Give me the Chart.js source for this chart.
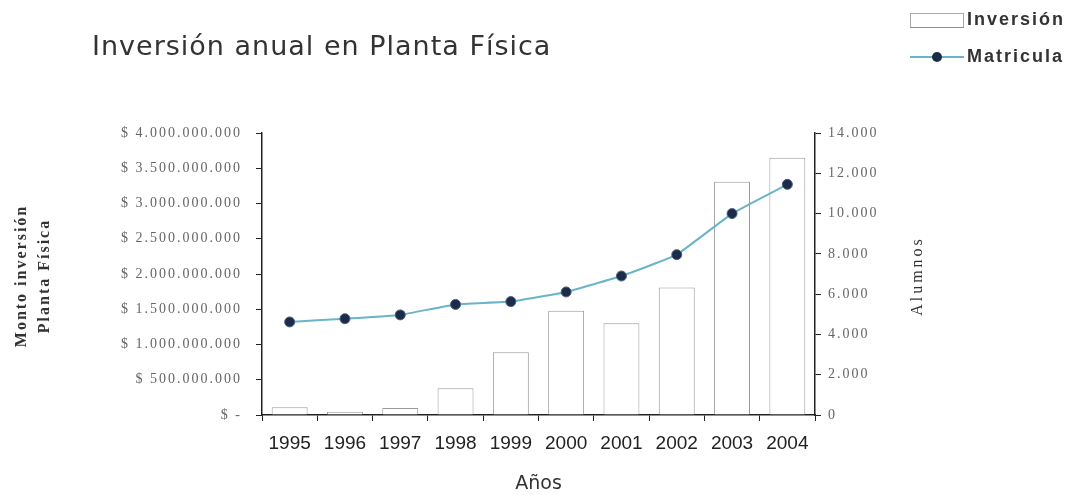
<!DOCTYPE html>
<html><head><meta charset="utf-8">
<script src="https://cdn.jsdelivr.net/npm/chart.js@4"></script>
<style>html,body{margin:0;padding:0;background:#fff}#wrap{width:1082px;height:495px;position:relative}</style>
</head><body><div id="wrap"><canvas id="c" width="1082" height="495"></canvas></div>
<script>
const years = ['1995','1996','1997','1998','1999','2000','2001','2002','2003','2004'];
const inversion = [110e6, 45e6, 100e6, 380e6, 890e6, 1480e6, 1300e6, 1810e6, 3310e6, 3650e6];
const matricula = [4620, 4780, 4970, 5490, 5630, 6110, 6900, 7960, 10000, 11450];
const titleText = 'Inversión anual en Planta Física';
const legendLabels = ['Inversión', 'Matricula'];
const leftAxisTitle = ['Monto inversión', 'Planta Física'];
const rightAxisTitle = 'Alumnos';
const xAxisTitle = 'Años';

const fmtDots = n => Math.round(n).toString().replace(/\B(?=(\d{3})+(?!\d))/g, '.');
const fmtLeft = v => v === 0 ? '$ -' : '$ ' + fmtDots(v);

const overlay = {
  id: 'overlay',
  afterDraw(chart) {
    const ctx = chart.ctx;
    ctx.save();
    ctx.textBaseline = 'middle';
    // title
    ctx.fillStyle = '#333';
    ctx.font = '27px "DejaVu Sans"';
    ctx.letterSpacing = '1px';
    ctx.textAlign = 'left';
    ctx.fillText(titleText, 92, 48);
    // legend
    ctx.strokeStyle = '#aaa'; ctx.lineWidth = 1;
    ctx.strokeRect(910.5, 13.5, 53, 14);
    ctx.strokeStyle = '#5aa7a0'; ctx.beginPath(); ctx.moveTo(910, 27.5); ctx.lineTo(964, 27.5); ctx.stroke();
    ctx.strokeStyle = '#6ab4c8'; ctx.lineWidth = 2;
    ctx.beginPath(); ctx.moveTo(910, 57); ctx.lineTo(964, 57); ctx.stroke();
    ctx.fillStyle = '#1c2b4a'; ctx.beginPath(); ctx.arc(937, 57, 5, 0, Math.PI*2); ctx.fill();
    ctx.fillStyle = '#333';
    ctx.font = 'bold 18px "Liberation Sans"';
    ctx.letterSpacing = '2px';
    ctx.fillText(legendLabels[0], 967, 20);
    ctx.fillText(legendLabels[1], 967, 57);
    // tick labels
    const y = chart.scales.y, y1 = chart.scales.y1;
    ctx.fillStyle = '#666';
    ctx.font = '14px "Liberation Serif"';
    ctx.letterSpacing = '2px';
    ctx.textAlign = 'right';
    y.ticks.forEach(t => ctx.fillText(fmtLeft(t.value), 242, y.getPixelForValue(t.value)));
    ctx.textAlign = 'left';
    y1.ticks.forEach(t => ctx.fillText(fmtDots(t.value), 828, y1.getPixelForValue(t.value)));
    // axis titles
    const cy = (chart.chartArea.top + chart.chartArea.bottom) / 2 + 2;
    ctx.fillStyle = '#333';
    ctx.textAlign = 'center';
    ctx.font = 'bold 16px "Liberation Serif"';
    ctx.letterSpacing = '2px';
    ctx.save(); ctx.translate(22, cy); ctx.rotate(-Math.PI/2); ctx.fillText(leftAxisTitle[0], 0, 0); ctx.restore();
    ctx.save(); ctx.translate(45, cy); ctx.rotate(-Math.PI/2); ctx.fillText(leftAxisTitle[1], 0, 0); ctx.restore();
    ctx.font = '16px "Liberation Serif"';
    ctx.letterSpacing = '3px';
    ctx.save(); ctx.translate(918, cy); ctx.rotate(-Math.PI/2); ctx.fillText(rightAxisTitle, 0, 0); ctx.restore();
    ctx.restore();
  }
};

new Chart(document.getElementById('c'), {
  data: {
    labels: years,
    datasets: [
      { type: 'line', label: legendLabels[1], data: matricula, yAxisID: 'y1', order: 0,
        borderColor: '#6ab4c8', borderWidth: 2, tension: 0.1,
        pointRadius: 5, pointBackgroundColor: '#1c2b4a', pointBorderColor: '#4a6080', pointBorderWidth: 1 },
      { type: 'bar', label: legendLabels[0], data: inversion, yAxisID: 'y', order: 1,
        backgroundColor: '#ffffff', borderColor: '#9a9a9a', borderWidth: 1,
        categoryPercentage: 1, barPercentage: 0.65 }
    ]
  },
  options: {
    responsive: false, animation: false,
    layout: { padding: { top: 133, right: 157, left: 0, bottom: 0 } },
    plugins: { legend: { display: false }, title: { display: false }, tooltip: { enabled: false } },
    scales: {
      x: {
        grid: { display: true, drawOnChartArea: false, color: '#222', tickLength: 6, offset: true },
        border: { color: '#222', width: 1.5 },
        ticks: { color: '#222', font: { family: 'Liberation Sans', size: 19 }, padding: 11, maxRotation: 0 },
        title: { display: true, text: xAxisTitle, color: '#333', font: { family: 'DejaVu Sans', size: 19 }, padding: { top: 12, bottom: 0 } },
        afterFit: s => { s.height = 80; }
      },
      y: {
        position: 'left', min: 0, max: 4000000000,
        grid: { display: true, drawOnChartArea: false, color: '#222', tickLength: 6 },
        border: { color: '#222', width: 1.5 },
        ticks: { stepSize: 500000000, display: false },
        afterFit: s => { s.width = 262; }
      },
      y1: {
        position: 'right', min: 0, max: 14000,
        grid: { display: true, drawOnChartArea: false, color: '#222', tickLength: 6 },
        border: { color: '#222', width: 1.5 },
        ticks: { stepSize: 2000, display: false },
        afterFit: s => { s.width = 110; }
      }
    }
  },
  plugins: [overlay]
});
</script></body></html>
